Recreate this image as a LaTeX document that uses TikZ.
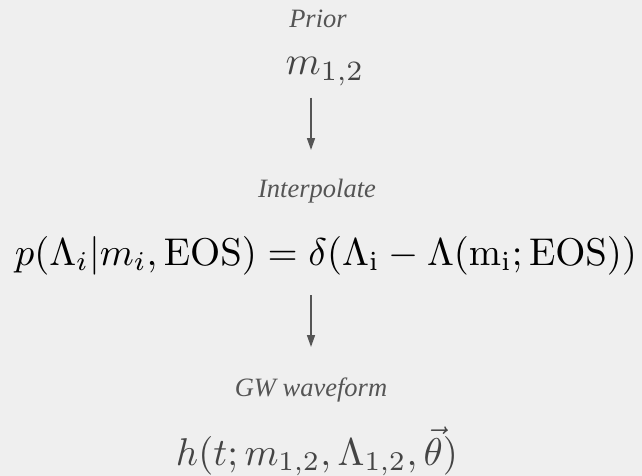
\documentclass[tikz,border=0pt]{standalone}
\usepackage{amsmath}
\usepackage[no-math]{fontspec}
\newfontfamily\labelfont{Liberation Serif}
\usetikzlibrary{arrows.meta,positioning,calc}
\definecolor{bgcol}{HTML}{EFEFEF}
\definecolor{labelgray}{HTML}{555555}
\definecolor{mathgray}{HTML}{444444}

\begin{document}
\begin{tikzpicture}[x=1pt,y=-1pt,>={Triangle[length=12pt,width=8pt]},
 lbl/.style={font=\labelfont\itshape\fontsize{26.5}{30}\selectfont,text=labelgray,anchor=base,inner sep=0pt},
 big/.style={scale=3.87,anchor=base,inner sep=0pt},
 arr/.style={->,line width=1.6pt,draw=labelgray,fill=labelgray}]
\useasboundingbox[fill=bgcol] (0,0) rectangle (642,476);
\coordinate (axis) at (311,0);
\node[lbl] (prior) at (318,28) {Prior};
\node[big,scale=1.034,text=mathgray] (mass) at (325,75) {$m_{1,2}$};
\node[lbl] (interp) at (317,197) {Interpolate};
\node[big,text=black] (eos) at (326,265) {$p(\Lambda_i|m_i,\mathrm{EOS})=\delta(\Lambda_\mathrm{i}-\Lambda(\mathrm{m_i;EOS}))$};
\node[lbl] (gw) at (311,396) {GW waveform};
\node[big,text=mathgray] (wave) at (317,465) {$h(t;m_{1,2},\Lambda_{1,2},\vec{\theta})$};
\draw[arr] ($(mass.base -| axis)+(0,23)$) -- ($(interp.base -| axis)+(0,-47)$);
\draw[arr] ($(eos.base -| axis)+(0,30)$) -- ($(gw.base -| axis)+(0,-49)$);
\end{tikzpicture}
\end{document}
